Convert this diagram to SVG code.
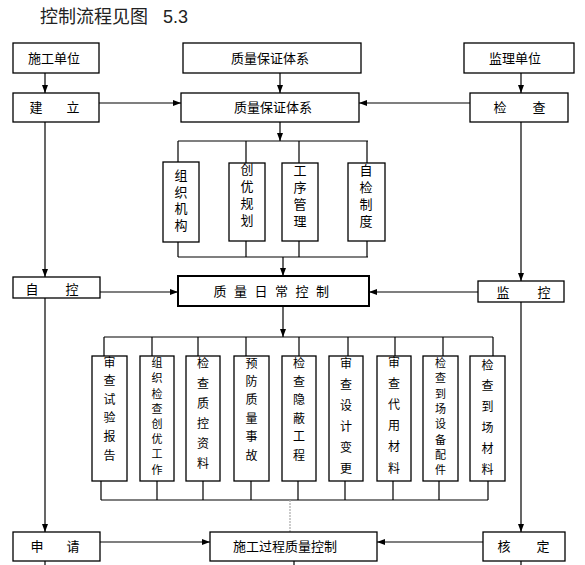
<svg xmlns="http://www.w3.org/2000/svg" width="585" height="565" viewBox="0 0 585 565">
<style>
.b{fill:#fff;stroke:#000;stroke-width:1.3}
.bt{fill:#fff;stroke:#000;stroke-width:2}
.t{font-family:"Noto Sans CJK SC","Liberation Sans",sans-serif;font-size:13px;fill:#000;text-anchor:middle}
.v{font-family:"Noto Sans CJK SC","Liberation Sans",sans-serif;font-size:13px;fill:#000;writing-mode:vertical-rl}
.s{font-family:"Noto Sans CJK SC","Liberation Sans",sans-serif;font-size:12px;fill:#000;writing-mode:vertical-rl}
.s2{font-family:"Noto Sans CJK SC","Liberation Sans",sans-serif;font-size:11px;fill:#000;writing-mode:vertical-rl}
.c{fill:none;stroke:#000;stroke-width:1.2}
.a{fill:none;stroke:#000;stroke-width:1.2;marker-end:url(#ah)}
</style>
<defs>
<marker id="ah" markerUnits="userSpaceOnUse" markerWidth="8" markerHeight="6" refX="8" refY="3" orient="auto">
<path d="M0,0 L8,3 L0,6 z" fill="#000"/>
</marker>
</defs>
<text x="40" y="23" font-family="Noto Sans CJK SC,Liberation Sans,sans-serif" font-size="18" fill="#222">控制流程见图</text>
<text x="163" y="23" font-family="Liberation Sans,sans-serif" font-size="18" fill="#222">5.3</text>

<g id="connectors">
<path class="a" d="M45,73 V93"/>
<path class="a" d="M280,73 V93"/>
<path class="a" d="M521,73 V93"/>
<path class="a" d="M99,103 H181"/>
<path class="a" d="M470,103 H359"/>
<path class="a" d="M45,122 V277"/>
<path class="a" d="M280,122 V141"/>
<path class="c" d="M178,141 H368 M178,141 V162 M246,141 V163 M299,141 V163 M367,141 V163"/>
<path class="c" d="M178,242 V257 M246,241 V257 M299,241 V257 M367,241 V257 M178,257 H368"/>
<path class="a" d="M283,257 V276"/>
<path class="a" d="M100,292 H178"/>
<path class="a" d="M521,122 V281"/>
<path class="a" d="M478,292 H369"/>
<path class="a" d="M283,306 V337"/>
<path class="c" d="M104,337 H493 M104,337 V356 M152,337 V356 M198,337 V356 M246,337 V356 M299,337 V356 M348,337 V356 M395,337 V356 M443,337 V356 M493,337 V356"/>
<path class="c" d="M101,481 V500 M157,481 V500 M203,481 V500 M251,481 V500 M298,481 V500 M345,481 V500 M393,481 V500 M439,481 V500 M488,481 V500 M101,500 H488"/>
<path d="M290,500 V532" fill="none" stroke="#aaa" stroke-width="1.2" stroke-dasharray="2,1"/>
<path class="a" d="M45,298 V532"/>
<path class="a" d="M521,302 V532"/>
<path class="a" d="M100,542 H210"/>
<path class="a" d="M483,542 H377"/>
<path class="c" d="M45,561 V565 M294,561 V565 M521,561 V565"/>
</g>

<g id="n-sgdw"><rect class="b" x="13" y="43" width="86" height="30"/><text class="t" x="54" y="63">施工单位</text></g>
<g id="n-zlbztx-top"><rect class="b" x="183" y="43" width="178" height="30"/><text class="t" x="270" y="63">质量保证体系</text></g>
<g id="n-jldw"><rect class="b" x="464" y="43" width="110" height="30"/><text class="t" x="515" y="63">监理单位</text></g>

<g id="n-jianli"><rect class="b" x="13" y="93" width="86" height="29"/><text class="t" x="36" y="112">建</text><text class="t" x="73" y="112">立</text></g>
<g id="n-zlbztx"><rect class="b" x="181" y="93" width="178" height="29"/><text class="t" x="273" y="112">质量保证体系</text></g>
<g id="n-jiancha"><rect class="b" x="470" y="93" width="98" height="29"/><text class="t" x="500" y="112">检</text><text class="t" x="539" y="112">查</text></g>

<g id="n-zzjg"><rect class="b" x="163" y="162" width="36" height="80"/><text class="v" x="181" y="169" letter-spacing="3.5">组织机构</text></g>
<g id="n-cygh"><rect class="b" x="229" y="163" width="36" height="78"/><text class="v" x="247" y="163" letter-spacing="4">创优规划</text></g>
<g id="n-gxgl"><rect class="b" x="282" y="163" width="36" height="78"/><text class="v" x="300" y="164" letter-spacing="4">工序管理</text></g>
<g id="n-zjzd"><rect class="b" x="348" y="163" width="37" height="78"/><text class="v" x="366" y="164" letter-spacing="4">自检制度</text></g>

<g id="n-zikong"><rect class="b" x="13" y="277" width="87" height="21"/><text class="t" x="32" y="294">自</text><text class="t" x="72" y="294">控</text></g>
<g id="n-zlrckz"><rect class="bt" x="178" y="276" width="191" height="30"/><text class="t" x="275" y="296" letter-spacing="7.5">质量日常控制</text></g>
<g id="n-jiankong"><rect class="b" x="478" y="281" width="86" height="21"/><text class="t" x="503" y="297">监</text><text class="t" x="544" y="297">控</text></g>

<g id="n-b1"><rect class="b" x="92" y="356" width="35" height="125"/><text class="s" x="109.5" y="356" letter-spacing="6.6">审查试验报告</text></g>
<g id="n-b2"><rect class="b" x="140" y="356" width="34" height="125"/><text class="s2" x="157" y="357.5" letter-spacing="4.2">组织检查创优工作</text></g>
<g id="n-b3"><rect class="b" x="186" y="356" width="34" height="125"/><text class="s" x="203" y="357" letter-spacing="8">检查质控资料</text></g>
<g id="n-b4"><rect class="b" x="234" y="356" width="35" height="125"/><text class="s" x="251.5" y="357" letter-spacing="6.4">预防质量事故</text></g>
<g id="n-b5"><rect class="b" x="282" y="356" width="34" height="125"/><text class="s" x="299" y="357" letter-spacing="6.4">检查隐蔽工程</text></g>
<g id="n-b6"><rect class="b" x="329" y="356" width="34" height="125"/><text class="s" x="346" y="357" letter-spacing="9">审查设计变更</text></g>
<g id="n-b7"><rect class="b" x="377" y="356" width="34" height="125"/><text class="s" x="394" y="356" letter-spacing="9.2">审查代用材料</text></g>
<g id="n-b8"><rect class="b" x="423" y="356" width="35" height="125"/><text class="s2" x="440.5" y="357.5" letter-spacing="4.3">检查到场设备配件</text></g>
<g id="n-b9"><rect class="b" x="470" y="356" width="35" height="125"/><text class="s" x="487.5" y="359" letter-spacing="8.8">检查到场材料</text></g>

<g id="n-shenqing"><rect class="b" x="13" y="532" width="87" height="29"/><text class="t" x="37" y="551">申</text><text class="t" x="73" y="551">请</text></g>
<g id="n-sggc"><rect class="b" x="210" y="532" width="167" height="29"/><text class="t" x="285" y="551">施工过程质量控制</text></g>
<g id="n-heding"><rect class="b" x="483" y="532" width="82" height="29"/><text class="t" x="504" y="551">核</text><text class="t" x="543" y="551">定</text></g>
</svg>
